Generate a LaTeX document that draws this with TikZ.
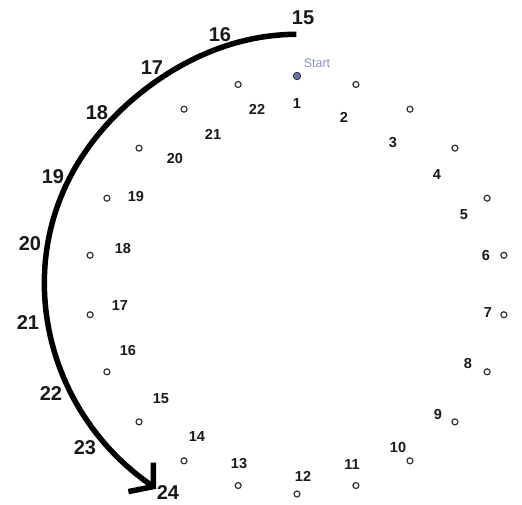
\documentclass[tikz,border=0pt]{standalone}
\usepackage{fontspec}
\setmainfont{Liberation Sans}
\usetikzlibrary{calc}
\definecolor{startcol}{HTML}{8A8FCC}
\definecolor{dotfill}{HTML}{6870B4}
\definecolor{ring}{HTML}{333333}
\tikzset{
  pt/.style={circle, draw=ring, line width=1.2pt, fill=white, inner sep=0pt, minimum size=6pt},
  startpt/.style={circle, draw=ring, line width=0.8pt, fill=dotfill, inner sep=0pt, minimum size=7.5pt},
  inlab/.style={font=\fontsize{14.5}{15}\selectfont\bfseries, inner sep=0pt, text=black!90},
  outlab/.style={font=\fontsize{20}{20}\selectfont\bfseries, inner sep=0pt, text=black!90},
  startlab/.style={font=\fontsize{12.5}{13}\selectfont, text=startcol, inner sep=0pt},
  bigarc/.style={line width=5.5pt, black},
  declare function={arcr(\t)=248-6.5*exp(-((\t-232)/30)^2);},
}
\begin{document}
\begin{tikzpicture}[x=1pt, y=-1pt]
\useasboundingbox (0,0) rectangle (522,504);
% points on circle
\foreach \k in {2,...,22} {
  \node[pt] (p\k) at ({297+209*cos(90-(\k-1)*360/22)}, {285-209*sin(90-(\k-1)*360/22)}) {};
}
\node[startpt] (p1) at (297,76) {};
\node[startlab] (start) at (317,63) {Start};
% inner labels
\node[inlab] (l1) at (297,104) {1};
\node[inlab] (l2) at (344,117) {2};
\node[inlab] (l3) at (393,143) {3};
\node[inlab] (l4) at (437,175) {4};
\node[inlab] (l5) at (464,215) {5};
\node[inlab] (l6) at (486,256) {6};
\node[inlab] (l7) at (488,313) {7};
\node[inlab] (l8) at (468,364) {8};
\node[inlab] (l9) at (438,415) {9};
\node[inlab] (l10) at (398,447) {10};
\node[inlab] (l11) at (352,465) {11};
\node[inlab] (l12) at (303,476) {12};
\node[inlab] (l13) at (239,464) {13};
\node[inlab] (l14) at (197,437) {14};
\node[inlab] (l15) at (161,399) {15};
\node[inlab] (l16) at (128,351) {16};
\node[inlab] (l17) at (120,306) {17};
\node[inlab] (l18) at (123,249) {18};
\node[inlab] (l19) at (136,197) {19};
\node[inlab] (l20) at (175,159) {20};
\node[inlab] (l21) at (213,134) {21};
\node[inlab] (l22) at (257,109) {22};
% outer labels
\node[outlab] (o15) at (303,18) {15};
\node[outlab] (o16) at (220,35) {16};
\node[outlab] (o17) at (152,68) {17};
\node[outlab] (o18) at (97,113) {18};
\node[outlab] (o19) at (53,177) {19};
\node[outlab] (o20) at (30,244) {20};
\node[outlab] (o21) at (28,323) {21};
\node[outlab] (o22) at (51,394) {22};
\node[outlab] (o23) at (85,448) {23};
\node[outlab] (o24) at (168,493) {24};
% big arc
\coordinate (arcC) at (292,281);
\coordinate (arcS) at ($(arcC)+(271:{arcr(271)})$);
\coordinate (arcE) at ($(arcC)+(124:{arcr(124)})$);
\coordinate (legA) at ($(arcE)+(0,-24)$);
\coordinate (legB) at ($(arcE)+(-25,5)$);
\draw[bigarc] (arcS) -- plot[domain=271:124, samples=90] ({292+arcr(\x)*cos(\x)}, {281+arcr(\x)*sin(\x)});
\draw[bigarc] (legA) -- (arcE) -- (legB);
\end{tikzpicture}
\end{document}
